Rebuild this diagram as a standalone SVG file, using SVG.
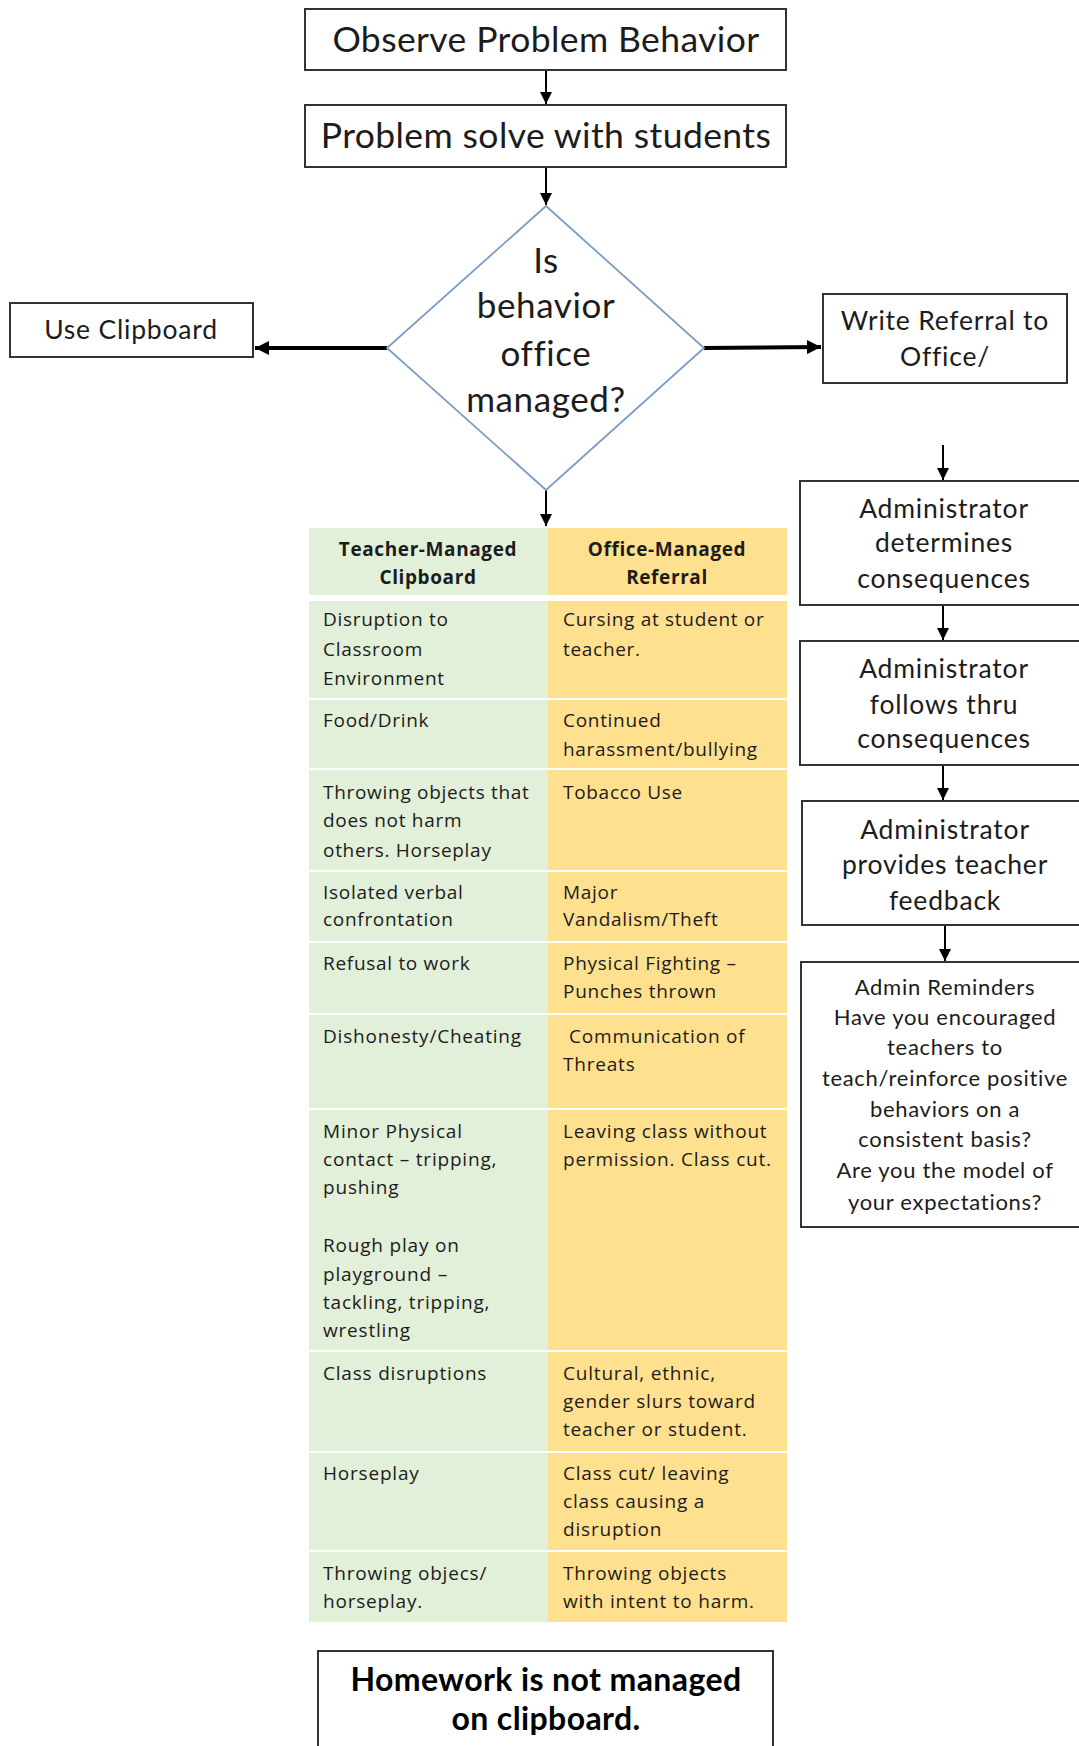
<svg xmlns="http://www.w3.org/2000/svg" width="1079" height="1746" viewBox="0 0 1079 1746">
<style>
text{font-family:Lato,"Open Sans","Liberation Sans",sans-serif;fill:#1c1c1c}
.box{fill:#fff;stroke:#333;stroke-width:2}
.big{font-size:35.5px;letter-spacing:0.4px;text-anchor:middle}
.dia{font-size:35px;letter-spacing:0.6px;text-anchor:middle}
.mid{font-size:26.5px;letter-spacing:0.8px;text-anchor:middle}
.rem{font-size:22px;letter-spacing:0.7px;text-anchor:middle}
.hd{font-family:"Open Sans",Lato,sans-serif;font-size:19px;font-weight:bold;letter-spacing:0.6px;text-anchor:middle}
.cell,.cell2{font-family:"Open Sans",Lato,sans-serif;font-size:19px;letter-spacing:0.7px}
.cell2{letter-spacing:0.8px}
.hw{font-size:32px;font-weight:bold;letter-spacing:0.4px;text-anchor:middle;fill:#000}
.g{fill:#E2EFD9}
.y{fill:#FFE08F}
.thin{stroke:#000;stroke-width:2;fill:none}
.thick{stroke:#000;stroke-width:4;fill:none}
</style>
<defs>
<marker id="ah" markerUnits="userSpaceOnUse" markerWidth="12" markerHeight="12" refX="10" refY="5" orient="auto" viewBox="0 0 10 10">
<path d="M0,0 L10,5 L0,10 z" fill="#000"/>
</marker>
<marker id="ahb" markerUnits="userSpaceOnUse" markerWidth="16" markerHeight="14" refX="10" refY="5" orient="auto" viewBox="0 0 10 10">
<path d="M0,0 L10,5 L0,10 z" fill="#000"/>
</marker>
</defs>
<rect width="1079" height="1746" fill="#fff"/>

<g id="connectors">
<line class="thin" x1="546" y1="70" x2="546" y2="104" marker-end="url(#ah)"/>
<line class="thin" x1="546" y1="167" x2="546" y2="205" marker-end="url(#ah)"/>
<line class="thick" x1="387" y1="348" x2="255" y2="348" marker-end="url(#ahb)"/>
<line class="thick" x1="704" y1="348" x2="821" y2="347" marker-end="url(#ahb)"/>
<line class="thin" x1="546" y1="490" x2="546" y2="526" marker-end="url(#ah)"/>
<line class="thin" x1="943" y1="445" x2="943" y2="480" marker-end="url(#ah)"/>
<line class="thin" x1="943" y1="605" x2="943" y2="640" marker-end="url(#ah)"/>
<line class="thin" x1="943" y1="765" x2="943" y2="800" marker-end="url(#ah)"/>
<line class="thin" x1="945" y1="925" x2="945" y2="961" marker-end="url(#ah)"/>
</g>

<g id="observe">
<rect class="box" x="305" y="9" width="481" height="61"/>
<text class="big" x="546" y="52">Observe Problem Behavior</text>
</g>
<g id="problem-solve">
<rect class="box" x="305" y="105" width="481" height="62"/>
<text class="big" x="546" y="148">Problem solve with students</text>
</g>
<g id="decision">
<polygon points="546,206 704,348 546,490 387,348" fill="#fff" stroke="#7B9DC3" stroke-width="1.8"/>
<text class="dia" x="546" y="273">Is</text>
<text class="dia" x="546" y="318">behavior</text>
<text class="dia" x="546" y="366">office</text>
<text class="dia" x="546" y="412">managed?</text>
</g>
<g id="use-clipboard">
<rect class="box" x="10" y="303" width="243" height="54"/>
<text class="mid" x="131" y="339">Use Clipboard</text>
</g>
<g id="write-referral">
<rect class="box" x="823" y="294" width="244" height="89"/>
<text class="mid" x="945" y="330">Write Referral to</text>
<text class="mid" x="945" y="366">Office/</text>
</g>
<g id="admin-determines">
<rect class="box" x="800" y="481" width="290" height="124"/>
<text class="mid" x="944" y="518">Administrator</text>
<text class="mid" x="944" y="552">determines</text>
<text class="mid" x="944" y="588">consequences</text>
</g>
<g id="admin-follows">
<rect class="box" x="800" y="641" width="290" height="124"/>
<text class="mid" x="944" y="678">Administrator</text>
<text class="mid" x="944" y="714">follows thru</text>
<text class="mid" x="944" y="748">consequences</text>
</g>
<g id="admin-feedback">
<rect class="box" x="802" y="801" width="290" height="124"/>
<text class="mid" x="945" y="839">Administrator</text>
<text class="mid" x="945" y="874">provides teacher</text>
<text class="mid" x="945" y="910">feedback</text>
</g>
<g id="admin-reminders">
<rect class="box" x="801" y="962" width="290" height="265"/>
<text class="rem" x="945" y="995">Admin Reminders</text>
<text class="rem" x="945" y="1025">Have you encouraged</text>
<text class="rem" x="945" y="1055">teachers to</text>
<text class="rem" x="945" y="1086">teach/reinforce positive</text>
<text class="rem" x="945" y="1117">behaviors on a</text>
<text class="rem" x="945" y="1147">consistent basis?</text>
<text class="rem" x="945" y="1178">Are you the model of</text>
<text class="rem" x="945" y="1210">your expectations?</text>
</g>

<g id="table">
<rect class="g" x="309" y="528" width="239" height="67"/>
<rect class="y" x="548" y="528" width="239" height="67"/>
<text class="hd" x="428" y="556">Teacher-Managed</text>
<text class="hd" x="428" y="584">Clipboard</text>
<text class="hd" x="667" y="556">Office-Managed</text>
<text class="hd" x="667" y="584">Referral</text>

<rect class="g" x="309" y="601" width="239" height="97"/>
<rect class="y" x="548" y="601" width="239" height="97"/>
<text class="cell" x="323" y="626">Disruption to</text>
<text class="cell" x="323" y="656">Classroom</text>
<text class="cell" x="323" y="685">Environment</text>
<text class="cell" x="563" y="626">Cursing at student or</text>
<text class="cell" x="563" y="656">teacher.</text>

<rect class="g" x="309" y="700" width="239" height="68"/>
<rect class="y" x="548" y="700" width="239" height="68"/>
<text class="cell" x="323" y="727">Food/Drink</text>
<text class="cell" x="563" y="727">Continued</text>
<text class="cell" x="563" y="756">harassment/bullying</text>

<rect class="g" x="309" y="770" width="239" height="100"/>
<rect class="y" x="548" y="770" width="239" height="100"/>
<text class="cell" x="323" y="799">Throwing objects that</text>
<text class="cell" x="323" y="827">does not harm</text>
<text class="cell" x="323" y="857">others. Horseplay</text>
<text class="cell" x="563" y="799">Tobacco Use</text>

<rect class="g" x="309" y="872" width="239" height="69"/>
<rect class="y" x="548" y="872" width="239" height="69"/>
<text class="cell" x="323" y="899">Isolated verbal</text>
<text class="cell" x="323" y="926">confrontation</text>
<text class="cell" x="563" y="899">Major</text>
<text class="cell" x="563" y="926">Vandalism/Theft</text>

<rect class="g" x="309" y="943" width="239" height="70"/>
<rect class="y" x="548" y="943" width="239" height="70"/>
<text class="cell" x="323" y="970">Refusal to work</text>
<text class="cell" x="563" y="970">Physical Fighting –</text>
<text class="cell" x="563" y="998">Punches thrown</text>

<rect class="g" x="309" y="1015" width="239" height="93"/>
<rect class="y" x="548" y="1015" width="239" height="93"/>
<text class="cell2" x="323" y="1043">Dishonesty/Cheating</text>
<text class="cell2" x="569" y="1043">Communication of</text>
<text class="cell2" x="563" y="1071">Threats</text>

<rect class="g" x="309" y="1110" width="239" height="240"/>
<rect class="y" x="548" y="1110" width="239" height="240"/>
<text class="cell2" x="323" y="1138">Minor Physical</text>
<text class="cell2" x="323" y="1166">contact – tripping,</text>
<text class="cell2" x="323" y="1194">pushing</text>
<text class="cell2" x="323" y="1252">Rough play on</text>
<text class="cell2" x="323" y="1281">playground –</text>
<text class="cell2" x="323" y="1309">tackling, tripping,</text>
<text class="cell2" x="323" y="1337">wrestling</text>
<text class="cell2" x="563" y="1138">Leaving class without</text>
<text class="cell2" x="563" y="1166">permission. Class cut.</text>

<rect class="g" x="309" y="1352" width="239" height="99"/>
<rect class="y" x="548" y="1352" width="239" height="99"/>
<text class="cell2" x="323" y="1380">Class disruptions</text>
<text class="cell2" x="563" y="1380">Cultural, ethnic,</text>
<text class="cell2" x="563" y="1408">gender slurs toward</text>
<text class="cell2" x="563" y="1436">teacher or student.</text>

<rect class="g" x="309" y="1453" width="239" height="97"/>
<rect class="y" x="548" y="1453" width="239" height="97"/>
<text class="cell2" x="323" y="1480">Horseplay</text>
<text class="cell2" x="563" y="1480">Class cut/ leaving</text>
<text class="cell2" x="563" y="1508">class causing a</text>
<text class="cell2" x="563" y="1536">disruption</text>

<rect class="g" x="309" y="1552" width="239" height="70"/>
<rect class="y" x="548" y="1552" width="239" height="70"/>
<text class="cell2" x="323" y="1580">Throwing objecs/</text>
<text class="cell2" x="323" y="1608">horseplay.</text>
<text class="cell2" x="563" y="1580">Throwing objects</text>
<text class="cell2" x="563" y="1608">with intent to harm.</text>
</g>

<g id="homework">
<rect class="box" x="318" y="1651" width="455" height="110"/>
<text class="hw" x="546" y="1691">Homework is not managed</text>
<text class="hw" x="546" y="1730">on clipboard.</text>
</g>
</svg>
